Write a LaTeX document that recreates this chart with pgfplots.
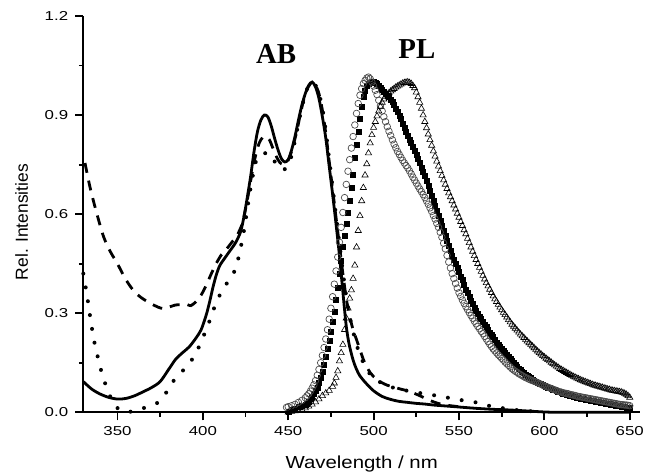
\documentclass[border=0pt]{standalone}
\usepackage{fontspec}
\setmainfont{Liberation Sans}
\newfontfamily\timesfont{Liberation Serif}
\usepackage{pgfplots}
\pgfplotsset{compat=1.18}

\begin{document}
\begin{tikzpicture}
\begin{axis}[
  scale only axis,
  width=556.7bp, height=396.3bp,
  xmin=330, xmax=656,
  ymin=0, ymax=1.2,
  axis lines=left,
  axis line style={line width=2bp, -},
  tick align=outside,
  major tick length=8bp,
  minor tick length=4.5bp,
  every tick/.style={line width=1.8bp, black},
  xtick={350,400,...,650},
  ytick={0,0.3,0.6,0.9,1.2},
  minor x tick num=1,
  minor y tick num=1,
  /pgf/number format/assume math mode=true,
  /pgf/number format/set thousands separator={},
  yticklabel style={/pgf/number format/fixed, /pgf/number format/fixed zerofill, /pgf/number format/precision=1, xshift=-2bp},
  tick label style={font=\fontsize{13}{15}\selectfont, xscale=1.3},
  xticklabel style={yshift=-3bp},
  xlabel={Wavelength / nm},
  ylabel={Rel. Intensities},
  label style={font=\fontsize{17.5}{20}\selectfont},
  xlabel style={at={(axis description cs:0.5,0)}, anchor=base, yshift=-56bp, xscale=1.17},
  ylabel style={at={([xshift=-61.6bp]axis description cs:0,0.48)}, anchor=center},
  clip=false,
]
% absorption, solid
\addplot[black, line width=2.8bp, smooth] table {
330 0.093
335 0.070
340 0.055
345 0.045
350 0.040
355 0.042
360 0.050
365 0.062
370 0.075
375 0.093
380 0.130
384 0.160
388 0.180
392 0.198
396 0.225
399 0.250
402 0.295
404 0.335
406 0.380
408 0.418
410 0.445
413 0.468
416 0.490
419 0.512
422 0.545
424 0.590
426 0.650
428 0.715
430 0.790
432 0.850
434 0.885
436 0.900
438 0.895
440 0.868
442 0.830
444 0.795
446 0.768
448 0.758
450 0.765
452 0.795
454 0.836
456 0.885
458 0.930
460 0.965
462 0.990
464 1.000
466 0.985
468 0.950
470 0.895
472 0.830
474 0.745
476 0.660
478 0.570
480 0.475
481 0.420
482 0.365
483 0.310
484 0.260
485 0.225
486 0.198
488 0.158
490 0.130
492 0.110
494 0.097
497 0.080
500 0.065
505 0.048
510 0.039
515 0.033
520 0.030
525 0.027
530 0.025
535 0.022
540 0.020
545 0.018
550 0.016
560 0.012
570 0.009
580 0.007
590 0.004
600 0.001
610 0.000
650 0.000
};
% absorption, dashed
\addplot[black, line width=2.8bp, dash pattern=on 10bp off 8bp, smooth] table {
331 0.755
334 0.680
338 0.600
342 0.530
346 0.485
350 0.450
354 0.410
358 0.378
362 0.355
366 0.340
370 0.328
374 0.318
377 0.314
380 0.318
384 0.325
388 0.326
391 0.326
393 0.323
396 0.335
399 0.355
402 0.385
405 0.420
408 0.452
411 0.478
414 0.495
417 0.515
420 0.535
423 0.570
425 0.615
427 0.670
429 0.730
431 0.780
433 0.815
435 0.832
437 0.835
439 0.825
441 0.800
443 0.775
445 0.757
447 0.750
449 0.755
451 0.775
453 0.810
455 0.850
457 0.900
459 0.945
461 0.978
463 0.995
464 1.000
466 0.990
468 0.965
470 0.915
472 0.845
474 0.760
476 0.675
478 0.590
480 0.505
482 0.420
484 0.345
486 0.290
488 0.250
490 0.220
492 0.190
494 0.160
496 0.138
498 0.120
500 0.108
504 0.092
508 0.082
512 0.076
516 0.070
520 0.065
524 0.057
528 0.048
532 0.038
536 0.030
540 0.024
545 0.020
550 0.017
};
% absorption, dotted
\addplot[black, line width=4bp, line cap=round, dash pattern=on 0bp off 14bp, smooth] table {
330 0.420
332 0.360
334 0.290
336 0.225
338 0.178
340 0.135
342 0.100
344 0.070
346 0.045
348 0.025
351 0.008
354 0.002
358 0.002
362 0.007
366 0.014
370 0.022
374 0.030
378 0.055
381 0.083
385 0.108
389 0.130
393 0.155
396 0.178
399 0.215
402 0.250
405 0.292
408 0.335
411 0.365
414 0.390
417 0.410
420 0.450
423 0.520
425 0.580
427 0.650
429 0.710
431 0.758
433 0.778
435 0.783
437 0.785
439 0.784
441 0.770
443 0.750
445 0.738
447 0.735
449 0.740
451 0.760
453 0.800
455 0.850
457 0.900
459 0.945
461 0.978
463 0.995
464 1.000
466 0.990
468 0.965
470 0.920
472 0.850
474 0.765
476 0.680
478 0.595
480 0.510
482 0.425
484 0.350
486 0.290
488 0.245
490 0.205
492 0.175
494 0.150
496 0.130
498 0.115
500 0.103
505 0.088
510 0.077
515 0.070
520 0.065
525 0.060
530 0.056
535 0.052
540 0.047
545 0.043
550 0.038
555 0.034
560 0.030
565 0.023
570 0.017
575 0.013
580 0.009
585 0.006
590 0.004
595 0.002
};
% PL, filled squares
\addplot[only marks, mark=square*, mark size=2.5bp, black] table {
450 0.003
452 0.008
454 0.012
456 0.016
458 0.019
460 0.022
461 0.026
462 0.032
463 0.040
464 0.048
465 0.057
466 0.066
467 0.076
468 0.090
469 0.106
470 0.124
471 0.145
472 0.168
473 0.192
474 0.218
475 0.245
476 0.275
477 0.305
478 0.340
479 0.378
480 0.420
481 0.460
482 0.500
483 0.535
484 0.570
485 0.605
486 0.640
487 0.680
488 0.720
489 0.770
490 0.810
491 0.850
492 0.890
493 0.925
494 0.955
495 0.975
496 0.988
497 0.995
498 0.999
499 1.000
500 1.000
501 0.998
502 0.995
503 0.990
504 0.984
505 0.978
506 0.972
507 0.965
508 0.960
509 0.955
510 0.948
511 0.939
512 0.930
513 0.920
514 0.910
515 0.899
516 0.888
517 0.875
518 0.862
519 0.850
520 0.838
521 0.826
522 0.815
523 0.803
524 0.792
525 0.780
526 0.768
527 0.755
528 0.742
529 0.728
530 0.715
531 0.700
532 0.685
533 0.670
534 0.655
535 0.640
536 0.625
537 0.610
538 0.595
539 0.580
540 0.565
541 0.550
542 0.535
543 0.520
544 0.505
545 0.490
546 0.475
547 0.462
548 0.450
549 0.437
550 0.425
551 0.412
552 0.400
553 0.386
554 0.372
555 0.361
556 0.350
557 0.339
558 0.328
559 0.318
560 0.308
561 0.299
562 0.290
563 0.282
564 0.275
565 0.266
566 0.258
567 0.250
568 0.242
569 0.235
570 0.228
571 0.220
572 0.212
573 0.205
574 0.199
575 0.192
576 0.186
577 0.180
578 0.174
579 0.168
580 0.162
581 0.156
582 0.150
583 0.144
584 0.138
585 0.133
586 0.128
587 0.123
588 0.119
589 0.115
590 0.111
591 0.107
592 0.104
593 0.100
594 0.097
595 0.094
596 0.091
597 0.088
598 0.086
599 0.083
600 0.080
601 0.077
602 0.075
603 0.073
604 0.071
605 0.069
606 0.067
607 0.065
608 0.063
609 0.061
610 0.059
611 0.057
612 0.055
613 0.053
614 0.052
615 0.050
616 0.049
617 0.047
618 0.046
619 0.045
620 0.044
621 0.042
622 0.041
623 0.040
624 0.039
625 0.038
626 0.037
627 0.036
628 0.035
629 0.034
630 0.033
631 0.032
632 0.031
633 0.030
634 0.029
635 0.028
636 0.027
637 0.026
638 0.025
639 0.024
640 0.023
641 0.022
642 0.021
643 0.020
644 0.019
645 0.018
646 0.017
647 0.016
648 0.015
649 0.014
650 0.014
};
% PL, open circles
\addplot[only marks, mark=o, mark size=3.3bp, gray!60!black, mark options={line width=0.7bp}] table {
449 0.015
450 0.017
452 0.020
454 0.024
456 0.030
458 0.036
460 0.044
461 0.050
462 0.056
463 0.064
464 0.073
465 0.083
466 0.096
467 0.112
468 0.130
469 0.150
470 0.172
471 0.196
472 0.222
473 0.250
474 0.282
475 0.315
476 0.350
477 0.388
478 0.428
479 0.470
480 0.515
481 0.560
482 0.605
483 0.650
484 0.690
485 0.730
486 0.765
487 0.800
488 0.835
489 0.870
490 0.905
491 0.935
492 0.960
493 0.980
494 0.995
495 1.005
496 1.012
497 1.015
498 1.010
499 1.000
500 0.988
501 0.975
502 0.962
503 0.945
504 0.928
505 0.912
506 0.895
507 0.880
508 0.865
509 0.851
510 0.838
511 0.825
512 0.812
513 0.801
514 0.790
515 0.781
516 0.772
517 0.763
518 0.755
519 0.747
520 0.740
521 0.731
522 0.722
523 0.712
524 0.703
525 0.694
526 0.685
527 0.676
528 0.668
529 0.659
530 0.650
531 0.640
532 0.630
533 0.619
534 0.608
535 0.596
536 0.585
537 0.572
538 0.560
539 0.545
540 0.530
541 0.512
542 0.495
543 0.475
544 0.455
545 0.437
546 0.420
547 0.405
548 0.390
549 0.376
550 0.362
551 0.351
552 0.340
553 0.330
554 0.320
555 0.311
556 0.302
557 0.293
558 0.285
559 0.276
560 0.268
561 0.260
562 0.253
563 0.245
564 0.238
565 0.230
566 0.222
567 0.214
568 0.206
569 0.199
570 0.192
571 0.186
572 0.180
573 0.174
574 0.169
575 0.163
576 0.158
577 0.152
578 0.147
579 0.142
580 0.137
581 0.132
582 0.128
583 0.124
584 0.121
585 0.117
586 0.114
587 0.111
588 0.108
589 0.105
590 0.103
591 0.100
592 0.098
593 0.096
594 0.094
595 0.092
596 0.090
597 0.087
598 0.085
599 0.082
600 0.080
601 0.078
602 0.076
603 0.074
604 0.072
605 0.070
606 0.068
607 0.066
608 0.064
609 0.062
610 0.061
611 0.059
612 0.058
613 0.057
614 0.056
615 0.054
616 0.053
617 0.052
618 0.051
619 0.049
620 0.048
621 0.047
622 0.046
623 0.045
624 0.044
625 0.043
626 0.042
627 0.041
628 0.040
629 0.039
630 0.038
631 0.037
632 0.036
633 0.035
634 0.034
635 0.033
636 0.032
637 0.031
638 0.030
639 0.029
640 0.028
641 0.027
642 0.026
643 0.025
644 0.024
645 0.023
646 0.023
647 0.022
648 0.022
649 0.021
650 0.020
};
% PL, open triangles
\addplot[only marks, mark=triangle, mark size=3.6bp, black, mark options={line width=0.6bp}] table {
450 0.000
452 0.002
454 0.004
456 0.006
458 0.009
460 0.013
462 0.018
464 0.024
466 0.031
468 0.040
470 0.050
472 0.058
474 0.066
476 0.078
477 0.088
478 0.105
479 0.125
480 0.155
481 0.180
482 0.205
483 0.250
484 0.285
485 0.315
486 0.345
487 0.370
488 0.405
489 0.445
490 0.500
491 0.550
492 0.595
493 0.640
494 0.680
495 0.718
496 0.752
497 0.785
498 0.815
499 0.840
500 0.862
501 0.880
502 0.897
503 0.912
504 0.926
505 0.938
506 0.948
507 0.956
508 0.962
509 0.967
510 0.972
511 0.976
512 0.980
513 0.984
514 0.987
515 0.990
516 0.993
517 0.996
518 0.998
519 0.999
520 1.000
521 0.998
522 0.995
523 0.989
524 0.982
525 0.969
526 0.955
527 0.938
528 0.920
529 0.900
530 0.880
531 0.861
532 0.842
533 0.825
534 0.808
535 0.791
536 0.775
537 0.760
538 0.745
539 0.731
540 0.717
541 0.703
542 0.690
543 0.677
544 0.664
545 0.652
546 0.640
547 0.627
548 0.615
549 0.602
550 0.590
551 0.577
552 0.565
553 0.552
554 0.540
555 0.526
556 0.513
557 0.500
558 0.487
559 0.474
560 0.462
561 0.450
562 0.438
563 0.426
564 0.414
565 0.403
566 0.392
567 0.382
568 0.372
569 0.362
570 0.352
571 0.343
572 0.335
573 0.326
574 0.318
575 0.310
576 0.302
577 0.295
578 0.288
579 0.280
580 0.273
581 0.266
582 0.260
583 0.254
584 0.248
585 0.242
586 0.236
587 0.231
588 0.226
589 0.220
590 0.215
591 0.210
592 0.205
593 0.200
594 0.195
595 0.190
596 0.185
597 0.180
598 0.176
599 0.171
600 0.167
601 0.163
602 0.159
603 0.155
604 0.151
605 0.147
606 0.143
607 0.139
608 0.136
609 0.132
610 0.129
611 0.126
612 0.123
613 0.120
614 0.117
615 0.114
616 0.111
617 0.108
618 0.106
619 0.103
620 0.101
621 0.098
622 0.096
623 0.094
624 0.092
625 0.090
626 0.088
627 0.086
628 0.084
629 0.082
630 0.081
631 0.079
632 0.078
633 0.076
634 0.075
635 0.073
636 0.072
637 0.070
638 0.069
639 0.067
640 0.066
641 0.065
642 0.064
643 0.063
644 0.062
645 0.061
646 0.059
647 0.057
648 0.054
649 0.050
650 0.045
};
\node[font=\timesfont\bfseries\fontsize{29}{30}\selectfont, inner sep=0pt] at (axis cs:442.9,1.085) {AB};
\node[font=\timesfont\bfseries\fontsize{29}{30}\selectfont, inner sep=0pt] at (axis cs:525.3,1.100) {PL};
\end{axis}
\pgfresetboundingbox
\path[use as bounding box] (-83.3bp,-59.7bp) rectangle (561.7bp,412.3bp);
\end{tikzpicture}
\end{document}
